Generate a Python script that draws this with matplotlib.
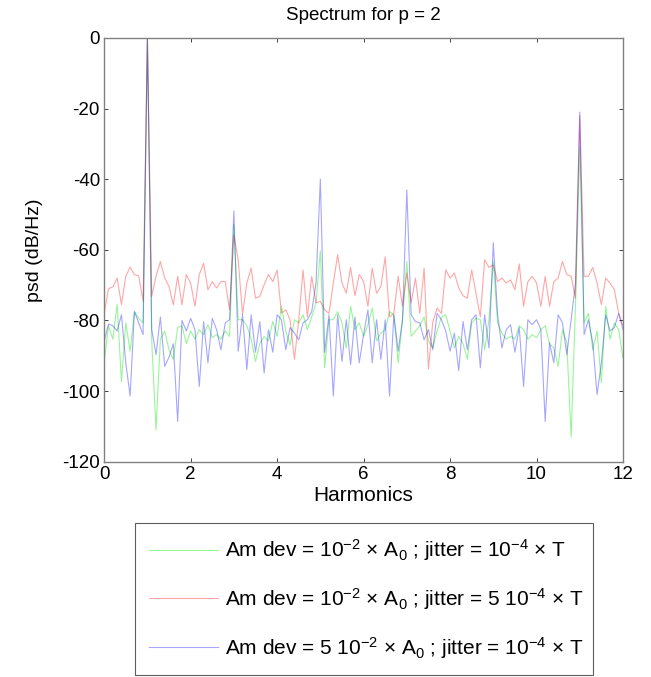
import matplotlib
matplotlib.use("Agg")
import matplotlib.pyplot as plt
import numpy as np

# harmonic axis, step 0.1 from 0 to 12
harmonics = np.round(np.arange(0, 121) * 0.1, 1)

# psd in dB/Hz, one value per 0.1 harmonic
psd_green = [
    -92, -81.5, -85.3, -75.5, -97.3, -80.7, -88.7, -77.5, -79.4, -80.7,
    0, -85.8, -111, -85.3, -83, -88.3, -91, -82, -81.5, -86.6,
    -83, -85.3, -82.6, -84, -81.2, -84.9, -84, -85.3, -83, -84.5,
    -52.8, -79.8, -79.8, -81.5, -85.3, -91.6, -86.6, -84.5, -85.8, -80.3,
    -84.5, -76, -83, -87, -79.8, -80.7, -78.4, -82.6, -79, -75,
    -60.3, -93.4, -79.8, -79.8, -77.5, -80.7, -87.8, -76, -82.6, -80.7,
    -84.5, -81.2, -76.5, -85.8, -83.6, -82.6, -77.5, -78.4, -92, -79.8,
    -63.3, -84.5, -83, -81.5, -79, -85.8, -87.8, -83, -79, -78.4,
    -83, -87.8, -84.5, -86.6, -91, -80.7, -79.4, -79.8, -88.3, -79.8,
    -63.3, -80.7, -83.6, -85.3, -84.5, -85.3, -81.5, -82.6, -85.3, -84,
    -84.9, -82.6, -81.5, -86.6, -87.8, -93, -82.6, -86.3, -113, -76,
    -31, -80.7, -78, -88.3, -83, -97.6, -76, -85.3, -80.7, -82.6,
    -90.7,
]
psd_red = [
    -78, -71, -70.5, -68, -75.5, -67.5, -64.9, -67, -67.4, -74.6,
    0, -73.2, -67.5, -63.3, -68, -70.4, -75.6, -67.5, -75.6, -67,
    -69.4, -76, -67, -63.8, -71.3, -69, -70.8, -69, -69, -77,
    -55.8, -62.8, -78.4, -69.4, -65.2, -73.7, -73.2, -69.9, -67, -69,
    -65.7, -77.9, -77, -79.8, -91, -80, -65.7, -79, -67.5, -75,
    -74.6, -77, -78, -69.4, -61.4, -69.4, -72.3, -65, -73, -67,
    -69, -76, -65.2, -72.3, -70.4, -62, -79, -78, -67.5, -76,
    -66.5, -75, -68, -78, -65.2, -93.7, -80.5, -76.5, -78, -65.7,
    -68, -66.6, -70.8, -73, -73.7, -65.7, -72.3, -79, -62.8, -65,
    -64.3, -69, -68, -69.4, -68.5, -71.3, -64, -76, -69, -67.5,
    -69.4, -76, -67.5, -76, -69, -68, -63.3, -67, -67.5, -73.7,
    -22, -67.5, -67.5, -65, -69.4, -75.5, -68, -69.4, -71.3, -78,
    -81.5,
]
psd_blue = [
    -86, -81, -81.5, -83, -78.4, -92, -101.4, -77.5, -80.7, -84,
    0, -82.6, -89.7, -79, -93, -90.4, -86.6, -108.6, -80, -83,
    -79.4, -82.6, -98.7, -80.3, -92, -79.4, -82.6, -88.3, -80.7, -79.8,
    -49, -88.7, -78.4, -93.9, -78.4, -89, -80.3, -94.9, -82.6, -89,
    -78.4, -79.8, -88.3, -82, -83.6, -85.5, -80.7, -79.8, -77.5, -69.4,
    -40, -89, -78.4, -101.4, -78.4, -91.6, -79.8, -92.5, -79, -92,
    -84, -77, -92, -79.8, -91, -79.8, -101.4, -78.4, -88.7, -79.8,
    -43, -78.4, -80.3, -80.7, -85.5, -82.6, -88.3, -78, -79.8, -83,
    -88.7, -83.6, -94.2, -80.3, -88.3, -79.8, -78.4, -93.4, -78.4, -87.8,
    -58, -78.4, -87.8, -82.6, -81.2, -89, -82, -98.7, -79.8, -81.2,
    -79.8, -82.6, -108.6, -86.3, -92, -78.4, -80.7, -89.7, -79.8, -69.4,
    -21, -84, -79.8, -86.3, -101, -92, -78.4, -83, -82, -78,
    -82.6,
]

labels = [
    r"Am dev = 10$^{-2}$ $\times$ A$_{0}$ ; jitter = 10$^{-4}$ $\times$ T",
    r"Am dev = 10$^{-2}$ $\times$ A$_{0}$ ; jitter = 5 10$^{-4}$ $\times$ T",
    r"Am dev = 5 10$^{-2}$ $\times$ A$_{0}$ ; jitter = 10$^{-4}$ $\times$ T",
]

plt.rcParams["font.family"] = ["Liberation Sans", "DejaVu Sans"]
plt.rcParams["mathtext.fontset"] = "custom"
plt.rcParams["mathtext.rm"] = "Liberation Sans"
plt.rcParams["mathtext.it"] = "Liberation Sans:italic"
plt.rcParams["mathtext.default"] = "rm"
plt.rcParams["axes.unicode_minus"] = False

fig = plt.figure(figsize=(6.51, 6.77), dpi=100)
ax = fig.add_axes([0.160, 0.318, 0.797, 0.626])

ax.plot(harmonics, psd_green, color=(0.0, 0.9, 0.0), alpha=0.4, linewidth=0.8, label=labels[0])
ax.plot(harmonics, psd_red, color=(1.0, 0.0, 0.0), alpha=0.35, linewidth=0.8, label=labels[1])
ax.plot(harmonics, psd_blue, color=(0.0, 0.0, 1.0), alpha=0.35, linewidth=0.8, label=labels[2])

ax.set_xlim(0, 12)
ax.set_ylim(-120, 0)
ax.set_xticks(range(0, 13, 2))
ax.set_yticks(range(-120, 1, 20))
ax.tick_params(direction="in", top=True, right=True, labelsize=13.5,
               length=3, width=0.6, pad=3, color="#222222")
for spine in ax.spines.values():
    spine.set_color("#808080")
    spine.set_linewidth(1.0)

ax.set_title("Spectrum for p = 2", fontsize=13.5, pad=13)
ax.set_xlabel("Harmonics", fontsize=15, labelpad=2)
ax.set_ylabel("psd (dB/Hz)", fontsize=14, labelpad=14)

leg = fig.legend(
    loc="center",
    bbox_to_anchor=(0.207, 0.003, 0.704, 0.2245),
    bbox_transform=fig.transFigure,
    mode="expand",
    fontsize=15,
    frameon=True,
    fancybox=False,
    handlelength=3.3,
    handletextpad=0.35,
    labelspacing=1.1,
    borderpad=0.69,
    borderaxespad=0,
)
leg.get_frame().set_edgecolor("#333333")
leg.get_frame().set_linewidth(0.8)

fig.savefig("out.png", dpi=100)
plt.close(fig)
